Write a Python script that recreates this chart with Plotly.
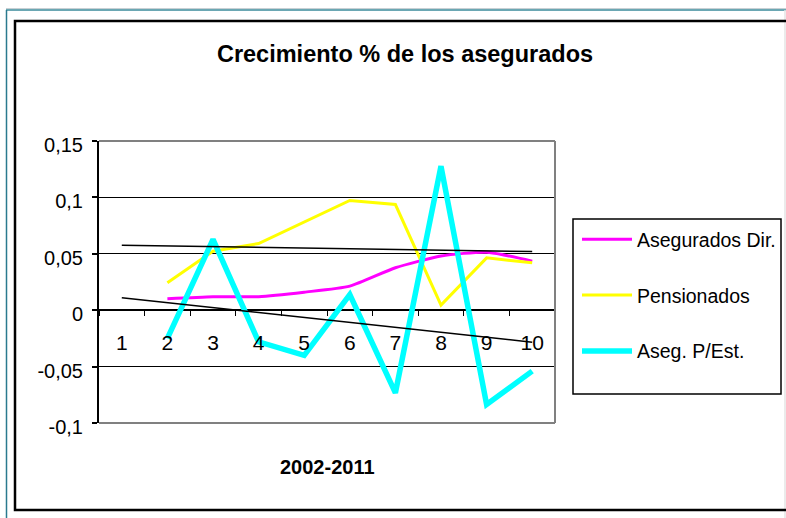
import plotly.graph_objects as go

categories = ["1", "2", "3", "4", "5", "6", "7", "8", "9", "10"]

aseg_dir = [None, 0.0101, 0.0119, 0.0120, 0.0160, 0.0213, 0.0376, 0.0480, 0.0514, 0.0435]
pensionados = [None, 0.0243, 0.0523, 0.0591, 0.0780, 0.0973, 0.0937, 0.0045, 0.0464, 0.0420]
aseg_pest = [None, -0.0250, 0.0627, -0.0280, -0.0400, 0.0139, -0.0733, 0.1277, -0.0836, -0.0540]

trend_x = ["1", "10"]
trend_pens = [0.0576, 0.0520]
trend_pest = [0.0110, -0.0284]

y_ticks = [-0.1, -0.05, 0, 0.05, 0.1, 0.15]
y_ticktext = ["-0,1", "-0,05", "0", "0,05", "0,1", "0,15"]

title_text = "Crecimiento % de los asegurados"
x_title = "2002-2011"

FONT = "Liberation Sans, Arial, sans-serif"

W, H = 786, 518
L, R, T, B = 99, 555, 141, 423


def px(x):
    return (x - L) / (R - L)


def py(y):
    return (B - y) / (B - T)


fig = go.Figure()
fig.add_trace(go.Scatter(x=categories, y=aseg_dir, name="Asegurados Dir.", mode="lines",
                         line=dict(color="#FF00FF", width=3, shape="spline", smoothing=0.6),
                         legendgroup="a"))
fig.add_trace(go.Scatter(x=categories, y=pensionados, name="Pensionados", mode="lines",
                         line=dict(color="#FFFF00", width=3), legendgroup="b"))
fig.add_trace(go.Scatter(x=categories, y=aseg_pest, name="Aseg. P/Est.", mode="lines",
                         line=dict(color="#00FFFF", width=5.5), legendgroup="c"))
fig.add_trace(go.Scatter(x=trend_x, y=trend_pens, mode="lines", showlegend=False,
                         line=dict(color="black", width=1.5)))
fig.add_trace(go.Scatter(x=trend_x, y=trend_pest, mode="lines", showlegend=False,
                         line=dict(color="black", width=1.5)))

shapes = [
    dict(type="line", xref="paper", yref="paper", x0=px(6), x1=px(790), y0=py(8.5), y1=py(8.5),
         line=dict(color="#C8D0D4", width=1)),
    dict(type="line", xref="paper", yref="paper", x0=px(6), x1=px(790), y0=py(10), y1=py(10),
         line=dict(color="#3A8A9A", width=1.5)),
    dict(type="line", xref="paper", yref="paper", x0=px(6.5), x1=px(6.5), y0=py(10), y1=py(520),
         line=dict(color="#2A7A8E", width=1.5)),
    dict(type="line", xref="paper", yref="paper", x0=px(785), x1=px(785), y0=py(10), y1=py(520),
         line=dict(color="#E4E4E4", width=1.5)),
    dict(type="rect", xref="paper", yref="paper", x0=px(15), x1=px(800), y0=py(510), y1=py(21),
         line=dict(color="black", width=2.5)),
    dict(type="line", xref="paper", yref="paper", x0=0, x1=1, y0=1, y1=1,
         line=dict(color="#808080", width=2)),
    dict(type="line", xref="paper", yref="paper", x0=0, x1=1, y0=0, y1=0,
         line=dict(color="#808080", width=2)),
    dict(type="line", xref="paper", yref="paper", x0=1, x1=1, y0=0, y1=1,
         line=dict(color="#808080", width=2)),
    dict(type="rect", xref="paper", yref="paper", x0=px(573), x1=px(781), y0=py(394), y1=py(219),
         line=dict(color="black", width=1.5), fillcolor="white", layer="below"),
]

fig.update_layout(
    width=W, height=H, autosize=False,
    margin=dict(l=L, r=W - R, t=T, b=H - B, autoexpand=False),
    paper_bgcolor="white", plot_bgcolor="white",
    font=dict(family=FONT, color="black", size=20),
    title=dict(text="<b>" + title_text + "</b>", xref="container", yref="container",
               x=405 / W, y=1 - 54 / H, xanchor="center", yanchor="middle",
               font=dict(family=FONT, size=23.5, color="black")),
    xaxis=dict(type="category", categoryorder="array", categoryarray=categories,
               range=[-0.5, 9.5], anchor="free", position=0.4, automargin=False,
               showgrid=False, showline=False, zeroline=False,
               ticks="outside", tickson="boundaries", ticklen=5, tickwidth=1, tickcolor="black",
               ticklabelstandoff=18, tickfont=dict(family=FONT, size=21, color="black")),
    yaxis=dict(range=[-0.1, 0.15], tickvals=y_ticks, ticktext=y_ticktext, automargin=False,
               showgrid=True, gridcolor="black", gridwidth=1,
               zeroline=True, zerolinecolor="black", zerolinewidth=2,
               showline=True, linecolor="black", linewidth=2,
               ticks="outside", ticklen=5, tickcolor="black", tickwidth=1.5,
               ticklabelstandoff=5, ticklabelshift=4,
               tickfont=dict(family=FONT, size=20, color="black")),
    legend=dict(xref="container", yref="container", x=577 / W, y=1 - 220 / H,
                xanchor="left", yanchor="top",
                bgcolor="rgba(0,0,0,0)", borderwidth=0, itemwidth=50,
                tracegroupgap=27.5, font=dict(family=FONT, size=19.5, color="black")),
    shapes=shapes,
    annotations=[dict(text="<b>" + x_title + "</b>", xref="paper", yref="paper",
                      x=0.5, y=py(467), xanchor="center", yanchor="middle", showarrow=False,
                      font=dict(family=FONT, size=20, color="black"))],
)

fig.write_html("out.html", config={"displayModeBar": False},
               post_script="document.body.style.margin='0';")
